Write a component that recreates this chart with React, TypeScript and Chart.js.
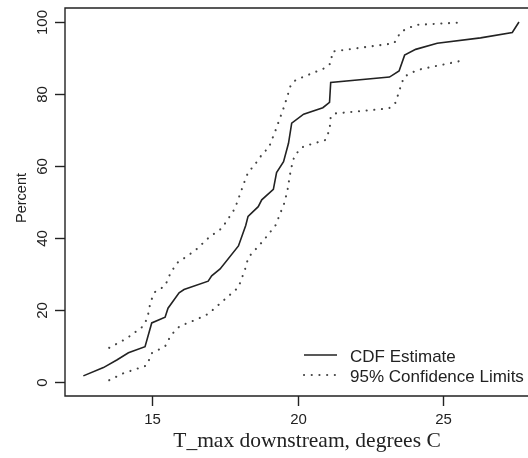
import React, { useEffect, useRef } from "react";
import { Chart, registerables } from "chart.js";

Chart.register(...registerables);

// CDF estimate
const cdfX = [12.64, 13.33, 13.79, 14.19, 14.76, 14.99, 15.45, 15.55, 15.93, 16.1, 16.93, 17.05, 17.34, 17.97, 18.22, 18.3, 18.65, 18.77, 19.17, 19.28, 19.52, 19.69, 19.8, 20.21, 20.87, 21.1, 21.14, 23.16, 23.49, 23.68, 24.06, 24.8, 26.29, 27.38, 27.61];
const cdfY = [1.7, 4.0, 6.1, 8.1, 9.8, 16.4, 18.0, 20.5, 24.8, 25.7, 28.0, 29.5, 31.4, 37.8, 43.5, 46.0, 48.7, 50.6, 53.5, 58.2, 61.2, 66.3, 71.9, 74.4, 76.2, 77.7, 83.2, 84.7, 86.4, 90.8, 92.4, 94.1, 95.6, 97.1, 100];

// lower 95% confidence limit
const lowerX = [13.53, 14.01, 14.53, 14.82, 14.99, 15.45, 15.65, 15.95, 16.54, 16.93, 17.97, 18.2, 18.31, 18.83, 19.25, 19.54, 19.65, 19.77, 19.9, 20.2, 20.95, 21.1, 21.14, 21.31, 23.14, 23.37, 23.54, 23.66, 24.12, 25.61];
const lowerY = [0.5, 2.4, 3.8, 4.6, 8.0, 9.9, 13.0, 15.5, 17.4, 18.9, 26.3, 31.4, 34.6, 39.3, 43.6, 49.6, 53.0, 59.0, 63.0, 65.4, 67.2, 70.0, 73.7, 74.6, 76.0, 77.6, 82.0, 84.8, 86.7, 89.2];

// upper 95% confidence limit
const upperX = [13.53, 14.13, 14.68, 14.84, 14.95, 15.1, 15.45, 15.62, 15.85, 16.48, 16.99, 17.4, 17.85, 18.2, 18.31, 18.48, 18.85, 19.0, 19.25, 19.54, 19.77, 19.94, 20.91, 21.14, 21.2, 23.32, 23.55, 24.06, 25.7];
const upperY = [9.5, 12.1, 15.4, 17.7, 22.3, 25.0, 26.7, 30.0, 33.0, 36.5, 40.4, 42.7, 48.2, 56.1, 58.4, 59.8, 64.0, 64.8, 70.0, 76.5, 82.5, 83.9, 87.1, 88.5, 91.8, 94.1, 97.3, 99.2, 99.9];

const xTicks = [15, 20, 25];
const yTicks = [0, 20, 40, 60, 80, 100];
const legendLabels = ["CDF Estimate", "95% Confidence Limits"];
const xTitle = "T_max downstream, degrees C";
const yTitle = "Percent";

const INK = "#222";
const SANS = "'Liberation Sans', Arial, Helvetica, sans-serif";
const SERIF = "'Liberation Serif', 'Times New Roman', serif";
const DOT_DASH = [0.1, 7.6];

const toPts = (xs: number[], ys: number[]) => xs.map((x, i) => ({ x, y: ys[i] }));

const framePlugin = {
  id: "frameAxes",
  afterDraw(chart: any) {
    const { ctx, chartArea: a, scales } = chart;
    const xs = scales.x;
    const ys = scales.y;
    ctx.save();
    ctx.strokeStyle = INK;
    ctx.fillStyle = INK;
    ctx.lineWidth = 1.4;
    ctx.setLineDash([]);
    ctx.beginPath();
    ctx.rect(a.left, a.top, a.right - a.left + 30, a.bottom - a.top);
    ctx.stroke();

    ctx.font = `15px ${SANS}`;
    ctx.textAlign = "center";
    ctx.textBaseline = "middle";
    for (const t of xTicks) {
      const px = Math.round(xs.getPixelForValue(t)) + 0.5;
      ctx.beginPath();
      ctx.moveTo(px, a.bottom);
      ctx.lineTo(px, a.bottom + 10);
      ctx.stroke();
      ctx.fillText(String(t), px, a.bottom + 24);
    }
    for (const t of yTicks) {
      const py = Math.round(ys.getPixelForValue(t)) + 0.5;
      ctx.beginPath();
      ctx.moveTo(a.left - 10, py);
      ctx.lineTo(a.left, py);
      ctx.stroke();
      ctx.save();
      ctx.translate(a.left - 22, py);
      ctx.rotate(-Math.PI / 2);
      ctx.fillText(String(t), 0, 0);
      ctx.restore();
    }

    // axis titles
    ctx.font = `21.5px ${SERIF}`;
    ctx.textBaseline = "alphabetic";
    ctx.fillText(xTitle, 307, a.bottom + 51);
    ctx.save();
    ctx.textBaseline = "middle";
    ctx.font = `14.5px ${SANS}`;
    ctx.translate(21.5, 198);
    ctx.rotate(-Math.PI / 2);
    ctx.fillText(yTitle, 0, 0);
    ctx.restore();

    // legend
    ctx.font = `17px ${SANS}`;
    ctx.textAlign = "left";
    ctx.textBaseline = "alphabetic";
    const rows = [355, 375];
    rows.forEach((ry, i) => {
      ctx.beginPath();
      if (i === 0) {
        ctx.lineWidth = 1.5;
        ctx.setLineDash([]);
        ctx.lineCap = "butt";
        ctx.strokeStyle = INK;
      } else {
        ctx.lineWidth = 2.1;
        ctx.setLineDash(DOT_DASH);
        ctx.lineCap = "round";
        ctx.strokeStyle = "#444";
      }
      ctx.moveTo(304, ry);
      ctx.lineTo(337, ry);
      ctx.stroke();
      ctx.fillText(legendLabels[i], 350, ry + 6.5);
    });
    ctx.restore();
  },
};

export default function App() {
  const ref = useRef<HTMLCanvasElement | null>(null);
  useEffect(() => {
    if (!ref.current) return;
    const dotted = {
      borderColor: "#444",
      borderWidth: 2.1,
      borderDash: DOT_DASH,
      borderCapStyle: "round" as const,
      pointRadius: 0,
      tension: 0,
      fill: false,
    };
    const chart = new Chart(ref.current, {
      type: "line",
      data: {
        datasets: [
          {
            label: legendLabels[0],
            data: toPts(cdfX, cdfY),
            borderColor: INK,
            borderWidth: 1.6,
            pointRadius: 0,
            tension: 0,
            fill: false,
          },
          { label: "lower", data: toPts(lowerX, lowerY), ...dotted },
          { label: "upper", data: toPts(upperX, upperY), ...dotted },
        ],
      },
      options: {
        animation: false,
        responsive: false,
        devicePixelRatio: 1,
        layout: { padding: { left: 65, top: 8, right: 0, bottom: 62 } },
        scales: {
          x: { type: "linear", min: 12.01, max: 27.92, display: false },
          y: { type: "linear", min: -3.89, max: 103.89, display: false },
        },
        plugins: { legend: { display: false }, tooltip: { enabled: false } },
      },
      plugins: [framePlugin],
    });
    return () => chart.destroy();
  }, []);
  return (
    <div style={{ position: "absolute", left: 0, top: 0, width: 528, height: 458, background: "#fff" }}>
      <canvas ref={ref} width={528} height={458} style={{ width: 528, height: 458, display: "block" }} />
    </div>
  );
}
